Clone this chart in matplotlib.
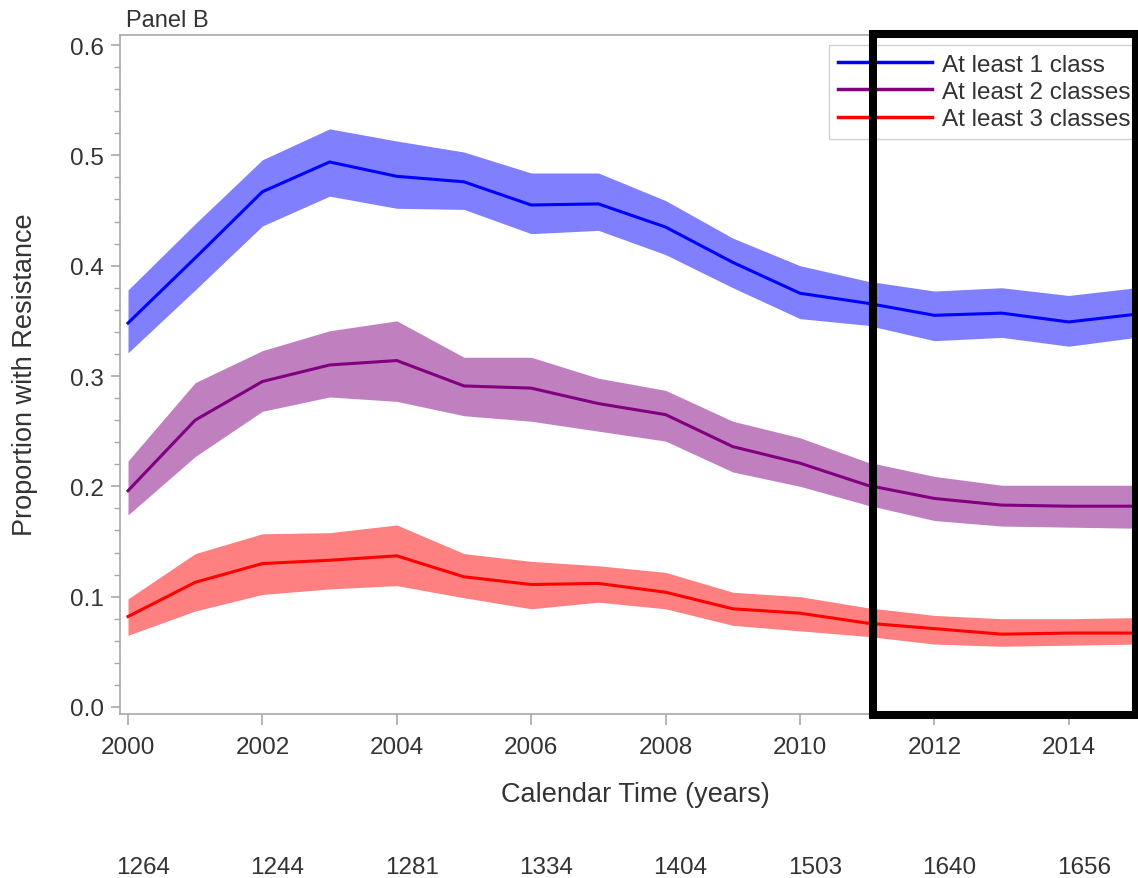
import matplotlib
matplotlib.use("Agg")
import matplotlib.pyplot as plt
import matplotlib.transforms as mtransforms
from matplotlib.patches import Rectangle
from matplotlib.ticker import MultipleLocator

plt.rcParams['font.family'] = ['Liberation Sans', 'DejaVu Sans']

years = list(range(2000, 2016))

one_mid = [0.348, 0.407, 0.467, 0.494, 0.481, 0.476, 0.455, 0.456, 0.435, 0.403, 0.375, 0.366, 0.355, 0.357, 0.349, 0.356]
one_hi  = [0.378, 0.438, 0.496, 0.524, 0.513, 0.503, 0.484, 0.484, 0.459, 0.425, 0.400, 0.386, 0.377, 0.380, 0.373, 0.380]
one_lo  = [0.321, 0.378, 0.436, 0.463, 0.452, 0.451, 0.429, 0.432, 0.410, 0.380, 0.352, 0.346, 0.332, 0.335, 0.327, 0.335]

two_mid = [0.196, 0.260, 0.295, 0.310, 0.314, 0.291, 0.289, 0.275, 0.265, 0.236, 0.221, 0.201, 0.189, 0.183, 0.182, 0.182]
two_hi  = [0.223, 0.294, 0.323, 0.341, 0.350, 0.317, 0.317, 0.298, 0.287, 0.259, 0.244, 0.222, 0.209, 0.201, 0.201, 0.201]
two_lo  = [0.174, 0.227, 0.268, 0.281, 0.277, 0.264, 0.259, 0.250, 0.241, 0.213, 0.200, 0.183, 0.169, 0.164, 0.163, 0.162]

three_mid = [0.082, 0.113, 0.130, 0.133, 0.137, 0.118, 0.111, 0.112, 0.104, 0.089, 0.085, 0.076, 0.071, 0.066, 0.067, 0.067]
three_hi  = [0.098, 0.139, 0.157, 0.158, 0.165, 0.139, 0.132, 0.128, 0.122, 0.104, 0.100, 0.090, 0.083, 0.080, 0.080, 0.081]
three_lo  = [0.065, 0.087, 0.102, 0.107, 0.110, 0.099, 0.089, 0.095, 0.089, 0.074, 0.069, 0.064, 0.057, 0.055, 0.056, 0.057]

series_labels = ["At least 1 class", "At least 2 classes", "At least 3 classes"]
count_years = [2000, 2002, 2004, 2006, 2008, 2010, 2012, 2014]
counts = [1264, 1244, 1281, 1334, 1404, 1503, 1640, 1656]

W, H = 1138, 879
fig = plt.figure(figsize=(W / 100, H / 100), dpi=100)
ax = fig.add_axes([120 / W, 1 - 715 / H, (1140 - 120) / W, (715 - 36) / H])

line_cols = ["#0000FF", "#800080", "#FF0000"]
band_cols = ["#8080FF", "#C080C0", "#FF8080"]
data = [(one_mid, one_lo, one_hi), (two_mid, two_lo, two_hi), (three_mid, three_lo, three_hi)]

for (mid, lo, hi), lc, bc, lab in zip(data, line_cols, band_cols, series_labels):
    ax.fill_between(years, lo, hi, color=bc, linewidth=0, zorder=1)
    ax.plot(years, mid, color=lc, linewidth=2.2, label=lab, zorder=2)

ax.set_xlim(2000 - 8 / 67.2, 2000 + (1140 - 128) / 67.2)
ax.set_ylim(-7 / 1100, 0.6 + 10 / 1100)

spine_col = "#a8a8a8"
text_col = "#333333"
for s in ax.spines.values():
    s.set_color(spine_col)
    s.set_linewidth(1.2)

ax.xaxis.set_major_locator(MultipleLocator(2))
ax.yaxis.set_major_locator(MultipleLocator(0.1))
ax.yaxis.set_minor_locator(MultipleLocator(0.02))
ax.tick_params(axis='x', which='major', length=8, width=1.2, color=spine_col,
               labelsize=17.5, labelcolor=text_col, pad=8)
ax.tick_params(axis='y', which='major', length=6.5, width=1.2, color=spine_col,
               labelsize=17.5, labelcolor=text_col, pad=5)
ax.tick_params(axis='y', which='minor', length=4.5, width=1.0, color=spine_col)
ax.set_yticks([0.0, 0.1, 0.2, 0.3, 0.4, 0.5, 0.6])
ax.set_yticklabels(["0.0", "0.1", "0.2", "0.3", "0.4", "0.5", "0.6"])
ax.set_xticks(count_years)
ax.set_xticklabels([str(y) for y in count_years])

ax.set_xlabel("Calendar Time (years)", fontsize=19.5, color=text_col, va='center')
ax.xaxis.set_label_coords((635 - 120) / 1020, (715 - 795) / 679)
ax.set_ylabel("Proportion with Resistance", fontsize=19.5, color=text_col, va='center')
ax.yaxis.set_label_coords((25 - 120) / 1020, (715 - 375) / 679)

fig.text(126 / W, 1 - 27 / H, "Panel B", fontsize=17, color=text_col, va='baseline', ha='left')

# counts row below the axis
trans = mtransforms.blended_transform_factory(ax.transData, fig.transFigure)
trans = trans + mtransforms.ScaledTranslation(15 / 100, 0, fig.dpi_scale_trans)
for yr, c in zip(count_years, counts):
    ax.text(yr, 1 - 868 / H, str(c), transform=trans, ha='center', va='center',
            fontsize=17.5, color=text_col, clip_on=False)

leg = ax.legend(loc='upper left', bbox_to_anchor=(829 / W, 1 - 46 / H),
                bbox_transform=fig.transFigure, fontsize=17.5, frameon=True,
                fancybox=False, edgecolor="#d0d0d0", framealpha=1,
                handlelength=3.9, handletextpad=0.4, labelspacing=0.22,
                borderpad=0.35, borderaxespad=0)
for t in leg.get_texts():
    t.set_color(text_col)
for l in leg.get_lines():
    l.set_linewidth(2.5)
leg.set_zorder(5)

rect = Rectangle((872.5 / W, 1 - 716 / H), (1136 - 872.5) / W, (716 - 35) / H,
                 transform=fig.transFigure, fill=False, edgecolor='black',
                 linewidth=5.8, zorder=10)
fig.add_artist(rect)

fig.savefig("out.png", dpi=100)
